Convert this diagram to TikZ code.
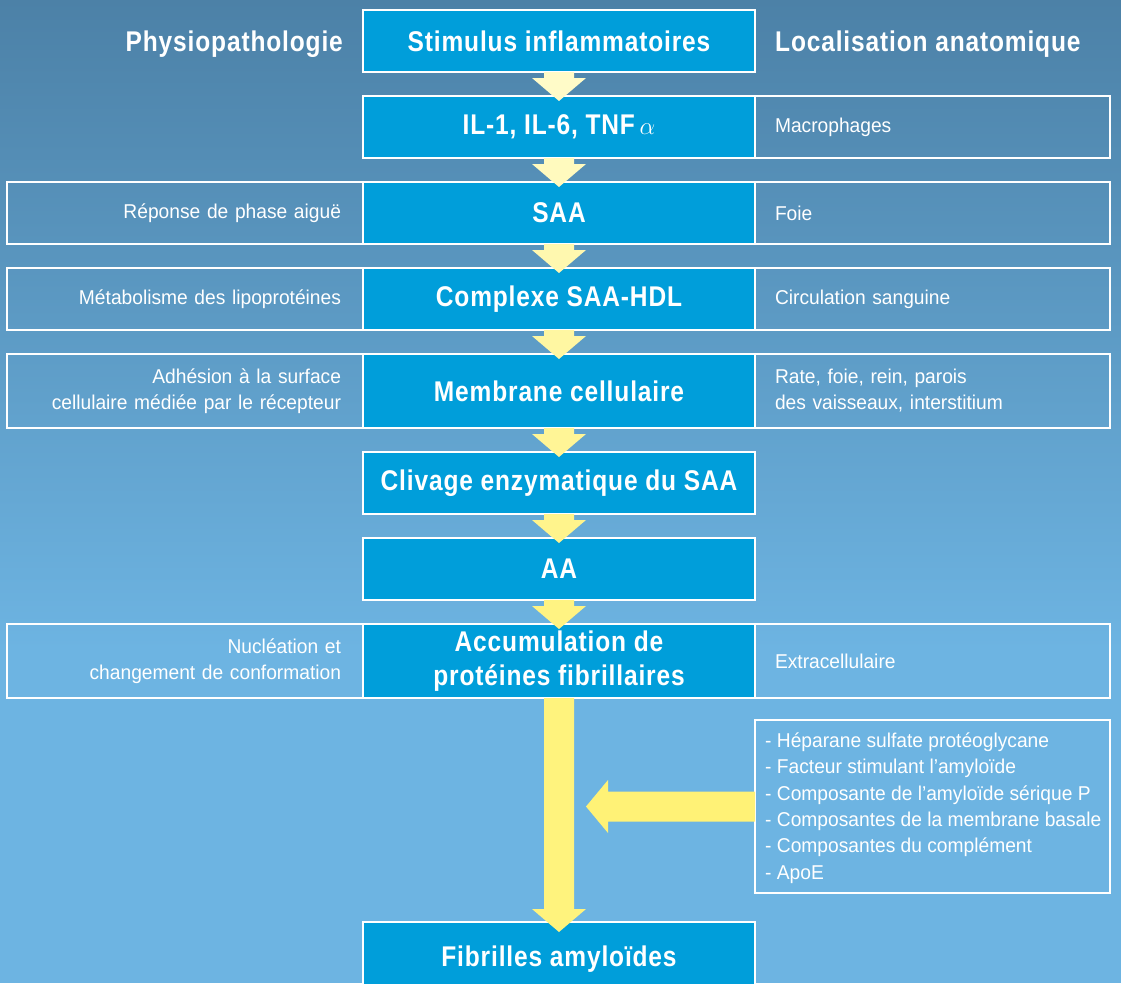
\documentclass[tikz,border=0pt]{standalone}
\usepackage{fontspec}
\setmainfont{Liberation Sans}
\newfontfamily\boldcond{Liberation Sans Bold}[FakeStretch=0.86, LetterSpace=3]
\newfontfamily\regcond{Liberation Sans}[FakeStretch=0.96]
\usetikzlibrary{calc}
\definecolor{bgtop}{RGB}{76,129,167}
\definecolor{bgbot}{RGB}{109,180,226}
\definecolor{cblue}{RGB}{0,158,218}
\definecolor{aa1}{RGB}{255,251,200}
\definecolor{aa2}{RGB}{255,250,190}
\definecolor{aa3}{RGB}{255,248,175}
\definecolor{aa4}{RGB}{255,247,162}
\definecolor{aa5}{RGB}{255,245,150}
\definecolor{aa6}{RGB}{255,244,140}
\definecolor{aa7}{RGB}{255,243,130}
\definecolor{aa8}{RGB}{255,243,125}
\definecolor{aa9}{RGB}{255,242,118}
\newcommand\flowarr[3]{\fill[#3] ($(#1.south)+(-15,0)$) -- ($(#2.north)+(-15,-18)$) -- ($(#2.north)+(-27,-18)$) -- ($(#2.north)+(0,5)$) -- ($(#2.north)+(27,-18)$) -- ($(#2.north)+(15,-18)$) -- ($(#1.south)+(15,0)$) -- cycle;}
\tikzset{
  mainbox/.style={draw=white, line width=1.5pt, fill=cblue, text=white, outer sep=0pt,
    minimum width=392, minimum height=62, inner sep=0pt, align=center,
    font=\boldcond\fontsize{28.5}{34}\selectfont},
  headtext/.style={text=white, inner sep=0pt, font=\boldcond\fontsize{28.5}{34}\selectfont},
  sidebase/.style={draw=white, line width=1.2pt, text=white, outer sep=0pt,
    font=\regcond\fontsize{20}{26}\selectfont},
  leftbox/.style={sidebase, minimum width=356, text width=312, inner xsep=22pt, align=right},
  rightbox/.style={sidebase, minimum width=355, text width=315, inner xsep=20pt, align=left},
}
\begin{document}
\begin{tikzpicture}[x=1pt,y=-1pt]
\clip (0,0) rectangle (1121,983);
\shade[top color=bgtop, bottom color=bgbot] (0,0) rectangle (1121,650);
\fill[bgbot] (0,649.5) rectangle (1121,983);

% headers
\node[headtext, anchor=base east] (hl) at (343,51) {Physiopathologie};
\node[headtext, anchor=base west] (hr) at (775,51) {Localisation anatomique};

% side boxes
\node[rightbox, minimum height=62] (r2) at (932.5,127) {Macrophages};
\node[leftbox, minimum height=62] (l3) at (185,213) {Réponse de phase aiguë};
\node[rightbox, minimum height=62] (r3) at (932.5,213) {Foie};
\node[leftbox, minimum height=62] (l4) at (185,299) {Métabolisme des lipoprotéines};
\node[rightbox, minimum height=62] (r4) at (932.5,299) {Circulation sanguine};
\node[leftbox, minimum height=74] (l5) at (185,391) {Adhésion à la surface\\cellulaire médiée par le récepteur};
\node[rightbox, minimum height=74] (r5) at (932.5,391) {Rate, foie, rein, parois\\des vaisseaux, interstitium};
\node[leftbox, minimum height=74] (l8) at (185,661) {Nucléation et\\changement de conformation};
\node[rightbox, minimum height=74] (r8) at (932.5,661) {Extracellulaire};
\node[sidebase, minimum width=355, minimum height=173] (lb) at (932.5,806.5) {};
\node[text=white, inner sep=0pt, anchor=west, align=left, font=\regcond\fontsize{20}{26.4}\selectfont] (lt) at ($(lb.west)+(10,1.5)$)
  {- Héparane sulfate protéoglycane\\- Facteur stimulant l’amyloïde\\- Composante de l’amyloïde sérique P\\- Composantes de la membrane basale\\- Composantes du complément\\- ApoE};

% main boxes
\node[mainbox] (b1) at (559,41) {Stimulus inflammatoires};
\node[mainbox] (b2) at (559,127) {IL-1, IL-6, TNF\,\textnormal{\fontsize{30}{34}\selectfont$\alpha$}};
\node[mainbox] (b3) at (559,213) {SAA};
\node[mainbox] (b4) at (559,299) {Complexe SAA-HDL};
\node[mainbox, minimum height=74] (b5) at (559,391) {Membrane cellulaire};
\node[mainbox] (b6) at (559,483) {Clivage enzymatique du SAA};
\node[mainbox] (b7) at (559,569) {AA};
\node[mainbox, minimum height=74] (b8) at (559,661) {Accumulation de\\protéines fibrillaires};
\node[mainbox, minimum height=74] (b9) at (559,959) {Fibrilles amyloïdes};

% arrows
\flowarr{b1}{b2}{aa1}
\flowarr{b2}{b3}{aa2}
\flowarr{b3}{b4}{aa3}
\flowarr{b4}{b5}{aa4}
\flowarr{b5}{b6}{aa5}
\flowarr{b6}{b7}{aa6}
\flowarr{b7}{b8}{aa7}
\fill[aa8] ($(b8.south)+(-15,0)$) -- ($(b9.north)+(-15,-13)$) -- ($(b9.north)+(-27,-13)$) -- ($(b9.north)+(0,10)$) -- ($(b9.north)+(27,-13)$) -- ($(b9.north)+(15,-13)$) -- ($(b8.south)+(15,0)$) -- cycle;
\coordinate (htip) at (586,806.5);
\fill[aa9] ($(lb.west)+(0,-15)$) -- ($(htip)+(22,-15)$) -- ($(htip)+(22,-26.5)$) -- (htip) -- ($(htip)+(22,26.5)$) -- ($(htip)+(22,15)$) -- ($(lb.west)+(0,15)$) -- cycle;
\end{tikzpicture}
\end{document}
